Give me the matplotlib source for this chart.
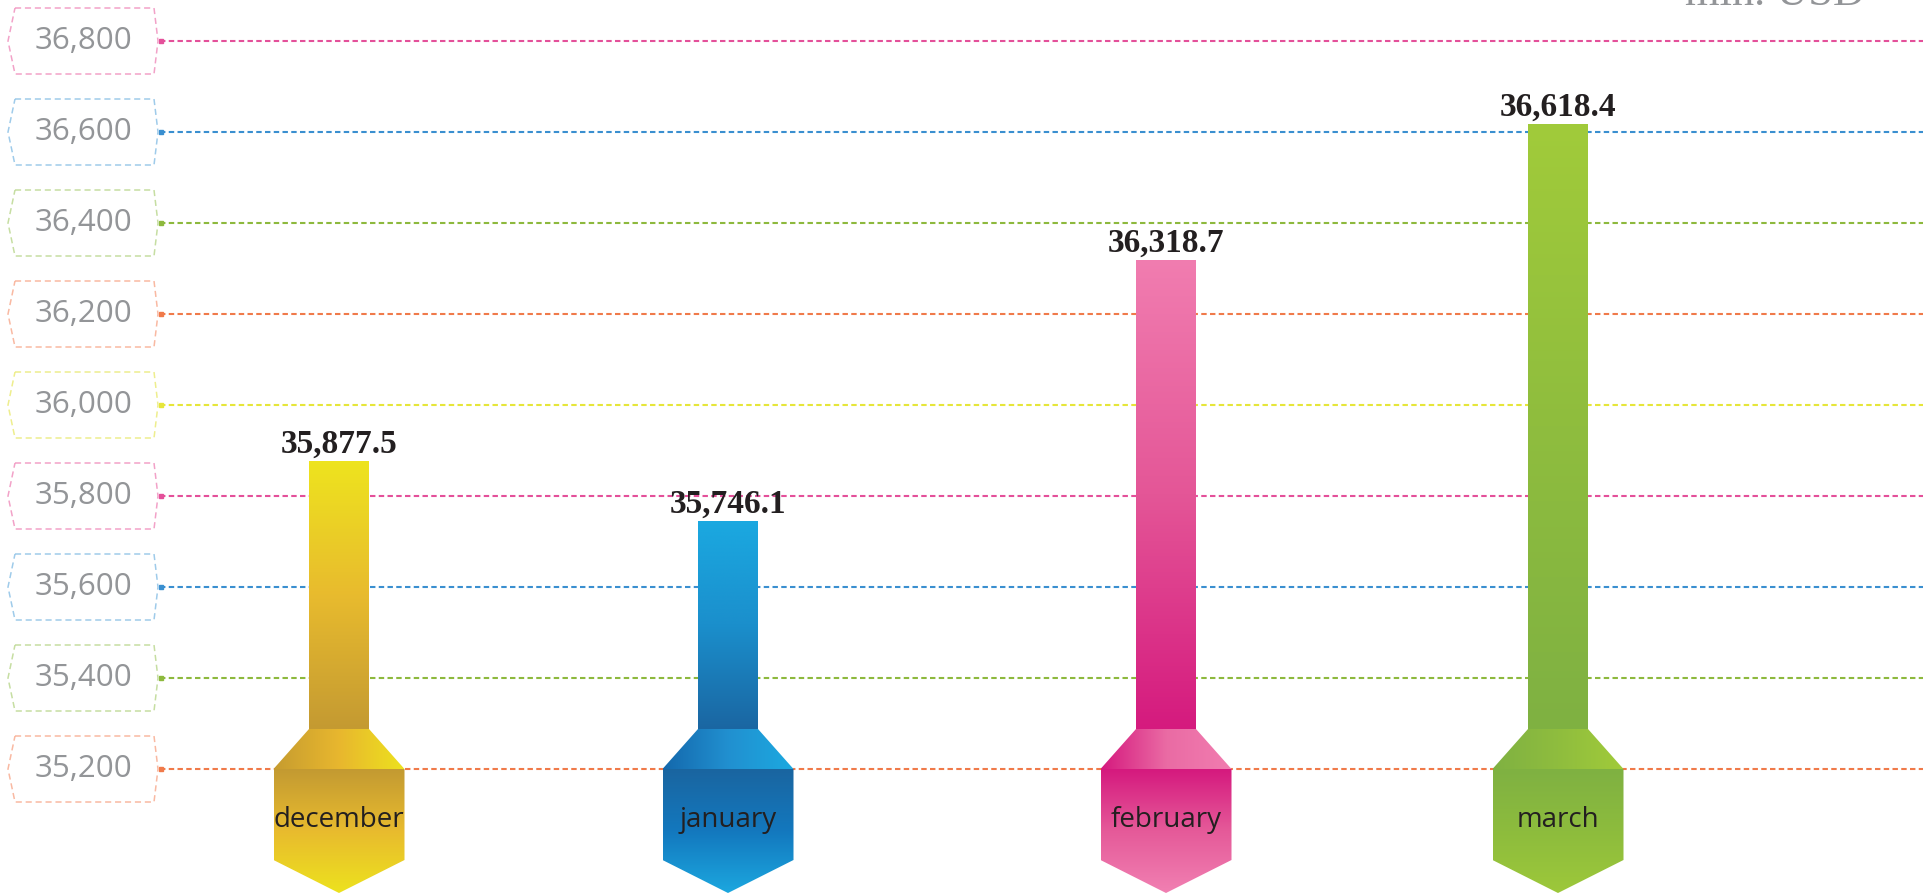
import numpy as np
import matplotlib.pyplot as plt
from matplotlib.patches import Polygon
from matplotlib.colors import LinearSegmentedColormap

# data
months = ["december", "january", "february", "march"]
values = [35877.5, 35746.1, 36318.7, 36618.4]
value_labels = ["35,877.5", "35,746.1", "36,318.7", "36,618.4"]
ticks = [35200, 35400, 35600, 35800, 36000, 36200, 36400, 36600, 36800]
tick_labels = ["35,200", "35,400", "35,600", "35,800", "36,000",
               "36,200", "36,400", "36,600", "36,800"]
unit = "mln. USD"

# layout (pixel units along x, value units along y)
W, H = 1923, 893
bar_x = [339, 728, 1166, 1558]
PX = 200 / 91.0                      # value units per pixel
Y_TOP = 36800 + 41 * PX
Y_BOT = 35200 - (H - 769) * PX

line_cols = {35200: "#f07a4a", 35400: "#8db93d", 35600: "#3a8fd0",
             35800: "#e4509a", 36000: "#e6e63a", 36200: "#f07a4a",
             36400: "#8db93d", 36600: "#3a8fd0", 36800: "#e4509a"}
box_cols = {35200: "#f9b9a2", 35400: "#c6dea2", 35600: "#9fcbea",
            35800: "#f2a2c8", 36000: "#eeee8e", 36200: "#f9b9a2",
            36400: "#c6dea2", 36600: "#9fcbea", 36800: "#f2a2c8"}

# stem (top, mid, bottom), trapezoid (left, mid, right), pentagon (top, mid, bottom)
palettes = [
    (["#eee41e", "#e8bb2e", "#c49a32"], ["#c69c30", "#e8b72e", "#ede21e"], ["#c39a32", "#e8bb2e", "#ede21e"]),
    (["#1ba9e1", "#1b8fcc", "#1a66a2"], ["#1468ac", "#2190d0", "#1ca9e0"], ["#1a65a0", "#1378be", "#1ca7df"]),
    (["#f17db0", "#e45697", "#d51a7e"], ["#d5197e", "#ea6ba4", "#f17db0"], ["#d5197e", "#e55a99", "#f180b2"]),
    (["#a1cb3a", "#8fbd3e", "#7fb142"], ["#7fb142", "#8fbd3e", "#a1cb3a"], ["#7fb142", "#8dbc3d", "#9dc83a"]),
]


def grad_fill(ax, verts, colors, direction, z=3):
    poly = Polygon(verts, closed=True, facecolor="none", edgecolor="none")
    ax.add_patch(poly)
    xs = [v[0] for v in verts]
    ys = [v[1] for v in verts]
    cmap = LinearSegmentedColormap.from_list("g", colors)
    g = np.linspace(0, 1, 256)
    if direction == "down":          # colors[0] at top
        arr = g[::-1].reshape(-1, 1)
    else:                            # colors[0] at left
        arr = g.reshape(1, -1)
    im = ax.imshow(arr, cmap=cmap, extent=[min(xs), max(xs), min(ys), max(ys)],
                   origin="lower", aspect="auto", zorder=z, interpolation="bilinear")
    im.set_clip_path(poly)


fig = plt.figure(figsize=(W / 100, H / 100), dpi=100)
ax = fig.add_axes([0, 0, 1, 1])
ax.axis("off")

# grid lines and label boxes
for t, lab in zip(ticks, tick_labels):
    ax.plot([160, W], [t, t], color=line_cols[t], lw=1.5,
            linestyle=(0, (2.6, 1.6)), zorder=1)
    ax.plot([161], [t], marker="s", ms=3, color=line_cols[t], zorder=1)
    h = 33 * PX
    box = [(15, t + h), (154, t + h), (158, t), (154, t - h), (15, t - h), (8, t)]
    ax.add_patch(Polygon(box, closed=True, facecolor="none",
                         edgecolor=box_cols[t], lw=1.1,
                         linestyle=(0, (4, 2.5)), zorder=1))
    ax.text(83, t, lab, ha="center", va="center", fontsize=22.5,
            family="Open Sans", color="#939598")

# bars
base = 35200
stem_half = 30
wide_half = 65.5
for x, v, vl, m, pal in zip(bar_x, values, value_labels, months, palettes):
    stem_bot = base + 40 * PX
    grad_fill(ax, [(x - stem_half, stem_bot), (x + stem_half, stem_bot),
                   (x + stem_half, v), (x - stem_half, v)], pal[0], "down")
    grad_fill(ax, [(x - wide_half, base), (x + wide_half, base),
                   (x + stem_half, stem_bot), (x - stem_half, stem_bot)], pal[1], "right")
    y_side = base - 91 * PX
    y_tip = base - 124 * PX
    grad_fill(ax, [(x - wide_half, base), (x + wide_half, base),
                   (x + wide_half, y_side), (x, y_tip), (x - wide_half, y_side)],
              pal[2], "down")
    ax.annotate(vl, (x, v), xytext=(0, 8), textcoords="offset pixels",
                ha="center", va="baseline", fontsize=24, fontweight="bold",
                family="Liberation Serif", color="#231f20", zorder=5)
    ax.text(x, base - 51 * PX, m, ha="center", va="center", fontsize=20,
            family="Open Sans", color="#231f20", zorder=5)

# unit label, partly cut by the top edge as in the original
fig.text(1775 / W, 1 - 5 / H, unit, ha="center", va="baseline", fontsize=32,
         family="Liberation Serif", color="#939598")

ax.set_xlim(0, W)
ax.set_ylim(Y_BOT, Y_TOP)
fig.savefig("out.png", dpi=100)
